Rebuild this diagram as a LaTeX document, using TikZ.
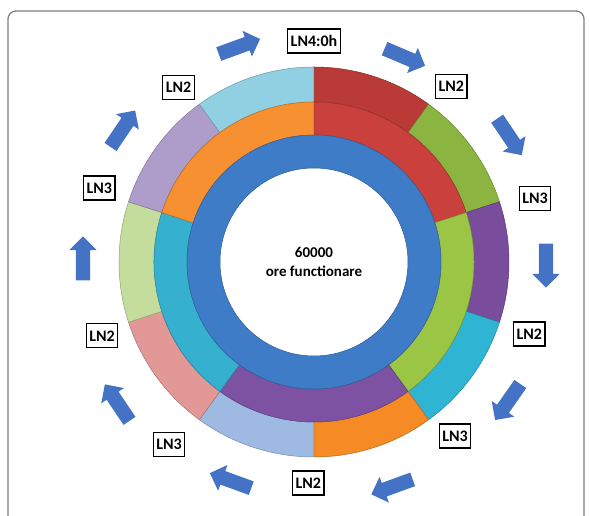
\documentclass[tikz,border=0pt]{standalone}
\usepackage{fontspec}
\setmainfont{Carlito}
\usetikzlibrary{shapes.arrows}
\definecolor{ringblue}{HTML}{3F7CC8}
\definecolor{redO}{HTML}{B93A37}
\definecolor{redM}{HTML}{C9403D}
\definecolor{greenO}{HTML}{8CB440}
\definecolor{greenM}{HTML}{9BC544}
\definecolor{purpleO}{HTML}{7A4C9C}
\definecolor{purpleM}{HTML}{7E52A3}
\definecolor{aquaO}{HTML}{2FB4D4}
\definecolor{aquaM}{HTML}{36B0CF}
\definecolor{orangeO}{HTML}{F68A25}
\definecolor{orangeM}{HTML}{F79030}
\definecolor{lblue}{HTML}{9EB9E2}
\definecolor{lpink}{HTML}{E39898}
\definecolor{lgreen}{HTML}{C4DC9C}
\definecolor{lavender}{HTML}{AE9CCB}
\definecolor{laqua}{HTML}{90D0E2}
\definecolor{flowblue}{HTML}{4472C4}

\begin{document}
\begin{tikzpicture}[x=1pt, y=1pt,
    seg/.style={fill=#1, draw=#1!75!black, line width=0.5pt},
    tag/.style={rectangle, draw, line width=1.3pt, fill=white, inner sep=3pt, minimum height=24pt, font=\bfseries\fontsize{16}{19}\selectfont},
    flow/.style={single arrow, fill=flowblue, inner sep=7pt, single arrow head extend=6.5pt, minimum height=44pt}
]
    \useasboundingbox (-314,-254) rectangle (276,262);

    % Frame
    \draw[gray, line width=1.3pt, rounded corners=8pt] (-306,-280) -- (-306,251) -- (270,251) -- (270,-280);

    % Outer ring
    \path[seg=redO] (90:195) arc[start angle=90, end angle=54, radius=195] -- (54:160) arc[start angle=54, end angle=90, radius=160] -- cycle;
    \path[seg=greenO] (54:195) arc[start angle=54, end angle=18, radius=195] -- (18:160) arc[start angle=18, end angle=54, radius=160] -- cycle;
    \path[seg=purpleO] (18:195) arc[start angle=18, end angle=-18, radius=195] -- (-18:160) arc[start angle=-18, end angle=18, radius=160] -- cycle;
    \path[seg=aquaO] (-18:195) arc[start angle=-18, end angle=-54, radius=195] -- (-54:160) arc[start angle=-54, end angle=-18, radius=160] -- cycle;
    \path[seg=orangeO] (-54:195) arc[start angle=-54, end angle=-90, radius=195] -- (-90:160) arc[start angle=-90, end angle=-54, radius=160] -- cycle;
    \path[seg=lblue] (-90:195) arc[start angle=-90, end angle=-126, radius=195] -- (-126:160) arc[start angle=-126, end angle=-90, radius=160] -- cycle;
    \path[seg=lpink] (-126:195) arc[start angle=-126, end angle=-162, radius=195] -- (-162:160) arc[start angle=-162, end angle=-126, radius=160] -- cycle;
    \path[seg=lgreen] (198:195) arc[start angle=198, end angle=162, radius=195] -- (162:160) arc[start angle=162, end angle=198, radius=160] -- cycle;
    \path[seg=lavender] (162:195) arc[start angle=162, end angle=126, radius=195] -- (126:160) arc[start angle=126, end angle=162, radius=160] -- cycle;
    \path[seg=laqua] (126:195) arc[start angle=126, end angle=90, radius=195] -- (90:160) arc[start angle=90, end angle=126, radius=160] -- cycle;

    % Middle ring
    \path[seg=redM] (90:160) arc[start angle=90, end angle=18, radius=160] -- (18:127) arc[start angle=18, end angle=90, radius=127] -- cycle;
    \path[seg=greenM] (18:160) arc[start angle=18, end angle=-54, radius=160] -- (-54:127) arc[start angle=-54, end angle=18, radius=127] -- cycle;
    \path[seg=purpleM] (-54:160) arc[start angle=-54, end angle=-126, radius=160] -- (-126:127) arc[start angle=-126, end angle=-54, radius=127] -- cycle;
    \path[seg=aquaM] (-126:160) arc[start angle=-126, end angle=-198, radius=160] -- (162:127) arc[start angle=162, end angle=234, radius=127] -- cycle;
    \path[seg=orangeM] (162:160) arc[start angle=162, end angle=90, radius=160] -- (90:127) arc[start angle=90, end angle=162, radius=127] -- cycle;

    % Inner ring
    \path[seg=ringblue, even odd rule] (0,0) circle[radius=127] (0,0) circle[radius=94];

    \node[font=\bfseries\fontsize{15}{19}\selectfont, align=center] (hours) at (0,0) {60000\\ore functionare};

    % Labels
    \node[tag] (top) at (90:221) {LN4:0h};
    \node[tag] (tr2) at (52:223) {LN2};
    \node[tag] (r3) at (16:230) {LN3};
    \node[tag] (r2) at (-18.5:227) {LN2};
    \node[tag] (br3) at (-51:224) {LN3};
    \node[tag] (b2) at (-91.5:221) {LN2};
    \node[tag] (bl3) at (-128.5:233) {LN3};
    \node[tag] (l2) at (-160.8:224.5) {LN2};
    \node[tag] (l3) at (161:227) {LN3};
    \node[tag] (tl2) at (127.8:221) {LN2};

    % Arrows (clockwise)
    \node[flow, rotate=20] (f1) at (110:228) {};
    \node[flow, rotate=-23] (f2) at (67:224) {};
    \node[flow, rotate=-56] (f3) at (33.5:232) {};
    \node[flow, rotate=-90] (f4) at (0:232) {};
    \node[flow, rotate=-125] (f5) at (-35:239) {};
    \node[flow, rotate=-160] (f6) at (-70:238) {};
    \node[flow, rotate=160] (f7) at (-110:234) {};
    \node[flow, rotate=124] (f8) at (-143.6:242) {};
    \node[flow, rotate=90] (f9) at (180:231) {};
    \node[flow, rotate=56] (f10) at (146:233) {};
\end{tikzpicture}
\end{document}
